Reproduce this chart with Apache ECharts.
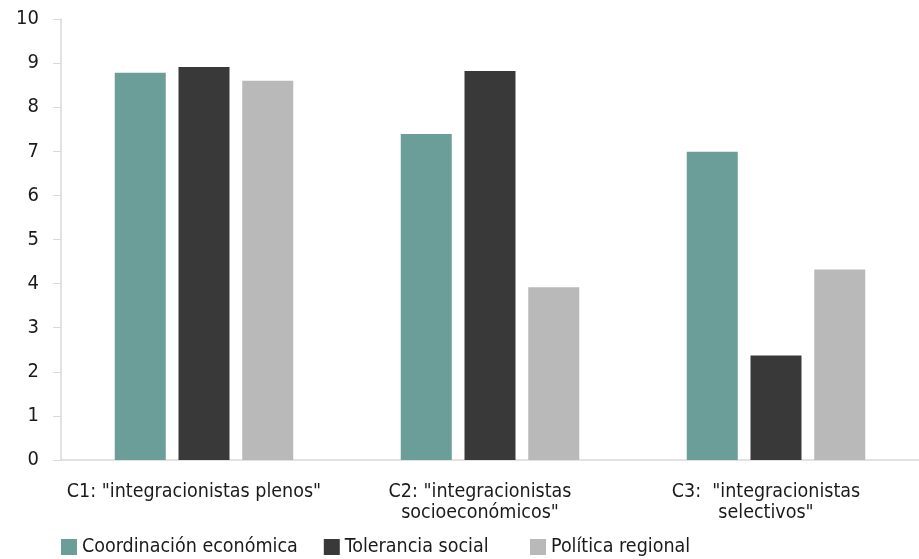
<!DOCTYPE html>
<html><head><meta charset="utf-8">
<script src="https://cdn.jsdelivr.net/npm/echarts@6/dist/echarts.min.js"></script>
<style>html,body{margin:0;padding:0;background:#fff}#c{width:919px;height:559px}</style>
</head><body><div id="c"></div>
<script>
const categories = ['C1: "integracionistas plenos"', 'C2: "integracionistas\nsocioeconómicos"', 'C3:  "integracionistas\nselectivos"'];
const seriesNames = ['Coordinación económica', 'Tolerancia social', 'Política regional'];
const coordinacion = [8.78, 7.39, 6.99];
const tolerancia = [8.91, 8.82, 2.37];
const politica = [8.6, 3.92, 4.32];
const colors = ['#6b9e98', '#393939', '#b9b9b9'];
const yTicks = [0, 10, 1];
const FONT = '"Liberation Sans Narrow", "DejaVu Sans Condensed", "Roboto", sans-serif';
const chart = echarts.init(document.getElementById('c'));
const data = [coordinacion, tolerancia, politica];
const legendBase = {
  top: 537, padding: [0, 5], itemWidth: 16, itemHeight: 16, itemGap: 26,
  icon: 'rect',
  textStyle: {fontFamily: FONT, fontSize: 19.5, color: '#1a1a1a'}
};
chart.setOption({
  animation: false,
  textStyle: {fontFamily: FONT},
  grid: {left: 61, right: 0, top: 19, bottom: 99},
  legend: [
    Object.assign({left: 56, data: seriesNames.slice(0, 2)}, legendBase),
    Object.assign({left: 525, data: seriesNames.slice(2)}, legendBase)
  ],
  xAxis: {
    type: 'category', data: categories,
    axisLine: {lineStyle: {color: '#d9d9d9', width: 1.5}},
    axisTick: {show: false},
    axisLabel: {fontFamily: FONT, fontSize: 19.5, color: '#1a1a1a', margin: 21, lineHeight: 21, interval: 0, padding: [0, 20, 0, 0]}
  },
  yAxis: {
    type: 'value', min: yTicks[0], max: yTicks[1], interval: yTicks[2],
    axisLine: {show: true, lineStyle: {color: '#d9d9d9', width: 1.5}},
    axisTick: {show: true, length: 8, lineStyle: {color: '#d9d9d9'}},
    splitLine: {show: false},
    axisLabel: {fontFamily: FONT, fontSize: 20, color: '#1a1a1a', margin: 22}
  },
  series: seriesNames.map((n, i) => ({
    name: n, type: 'bar', data: data[i], barWidth: 51, barGap: '25%',
    itemStyle: {color: colors[i]}
  }))
});
</script></body></html>
